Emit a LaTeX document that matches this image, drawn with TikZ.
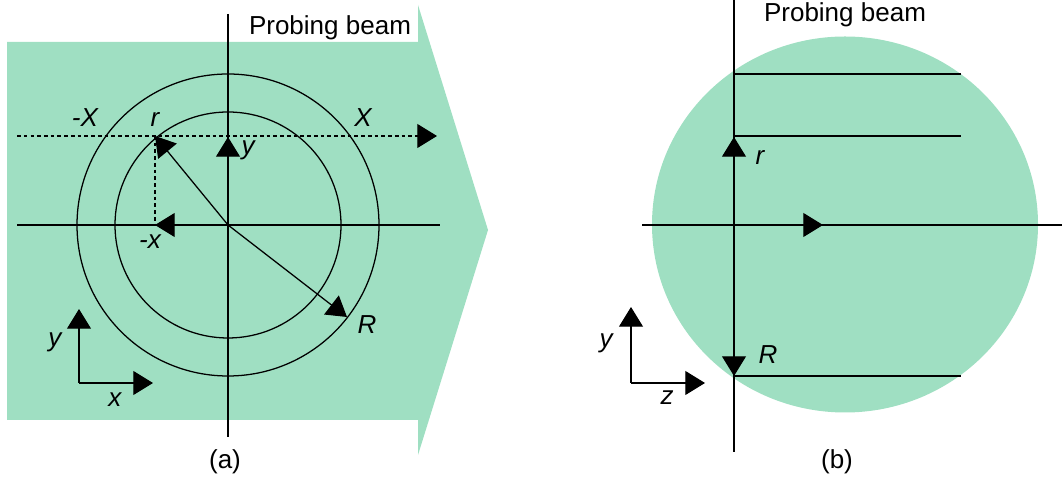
\documentclass[tikz,border=0pt]{standalone}
\usepackage{fontspec}
\setmainfont{Liberation Sans}
\usetikzlibrary{positioning,arrows.meta}
\definecolor{beamgreen}{RGB}{159,223,194}
\tikzset{
  beamfill/.style={fill=beamgreen, draw=none},
  axisline/.style={line width=0.9pt},
  dashline/.style={line width=0.9pt, dash pattern=on 2.6pt off 2.2pt},
  bigarrow/.style={-{Triangle[length=14pt, width=17pt]}, line width=0.9pt},
  varlabel/.style={font=\fontsize{18.5}{22}\selectfont\itshape, inner sep=0pt},
  caption/.style={font=\fontsize{18.5}{22}\selectfont, inner sep=0pt}
}

\begin{document}
\begin{tikzpicture}[x=0.025cm, y=0.025cm]
  \useasboundingbox (0,0) rectangle (1062,484);
  % (a) beam seen along its direction
  \fill[beamfill] (7,442) -- (418,442) -- (418,479) -- (488,254) -- (418,29) -- (418,64) -- (7,64) -- cycle;
  \coordinate (O) at (228,259);
  \coordinate (top) at (228,470);
  \coordinate (bot) at (228,47);
  \coordinate (left) at (17,259);
  \coordinate (right) at (440,259);
  \coordinate (dl) at (17,348);
  \coordinate (dr) at (437,348);
  \coordinate (P) at (155,348);
  \coordinate (Px) at (155,259);
  \coordinate (xs) at (270,259);
  \coordinate (ytip) at (228,347);
  \coordinate (Rtip) at (347,167);
  \draw[axisline] (top) -- (bot);
  \draw[axisline] (left) -- (right);
  \draw[axisline] (O) circle[radius=151];
  \draw[axisline] (O) circle[radius=113];
  \draw[dashline, -{Triangle[length=14pt, width=17pt]}] (dl) -- (dr);
  \draw[dashline] (P) -- (Px);
  \draw[bigarrow] (O) -- (P);
  \draw[bigarrow] (xs) -- (Px);
  \draw[bigarrow] (O) -- (ytip);
  \draw[bigarrow] (O) -- (Rtip);
  \node[varlabel] (lX1) at (85,366) {-X};
  \node[varlabel] (lX2) at (363,366) {X};
  \node[varlabel] (lr) at (155,364) {r};
  \node[varlabel] (ly) at (248,334) {y};
  \node[varlabel] (lx) at (150,242) {-x};
  \node[varlabel] (lR) at (367,159) {R};
  \coordinate (ao) at (79,101);
  \coordinate (ay) at (79,175);
  \coordinate (ax) at (153,101);
  \draw[bigarrow] (ao) -- (ay);
  \draw[bigarrow] (ao) -- (ax);
  \node[varlabel] (aylab) at (55,142) {y};
  \node[varlabel] (axlab) at (115,84) {x};
  \node[caption] (capa) at (330,456) {Probing beam};
  \node[caption] (lba) at (225,22) {(a)};
  % (b) beam seen from the side
  \fill[beamfill] (845,259.5) ellipse[x radius=193, y radius=188];
  \coordinate (C) at (734,259);
  \coordinate (vt) at (734,484);
  \coordinate (vb) at (734,32);
  \coordinate (hl) at (642,259);
  \coordinate (hr) at (1062,259);
  \draw[axisline] (vt) -- (vb);
  \draw[axisline] (hl) -- (hr);
  \foreach \yy in {410,348,108}
    \draw[axisline] (734,\yy) -- (961,\yy);
  \coordinate (rtip) at (734,347);
  \coordinate (Rb) at (734,108);
  \coordinate (ztip) at (823,259);
  \draw[bigarrow] (C) -- (rtip);
  \draw[bigarrow] (C) -- (Rb);
  \draw[bigarrow] (C) -- (ztip);
  \node[varlabel] (br) at (760,326) {r};
  \node[varlabel] (bR) at (768,129) {R};
  \coordinate (bo) at (631,101);
  \coordinate (by) at (631,177);
  \coordinate (bz) at (705,101);
  \draw[bigarrow] (bo) -- (by);
  \draw[bigarrow] (bo) -- (bz);
  \node[varlabel] (bylab) at (606,141) {y};
  \node[varlabel] (bzlab) at (667,86) {z};
  \node[caption] (capb) at (845,469) {Probing beam};
  \node[caption] (lbb) at (837,22) {(b)};
\end{tikzpicture}
\end{document}
